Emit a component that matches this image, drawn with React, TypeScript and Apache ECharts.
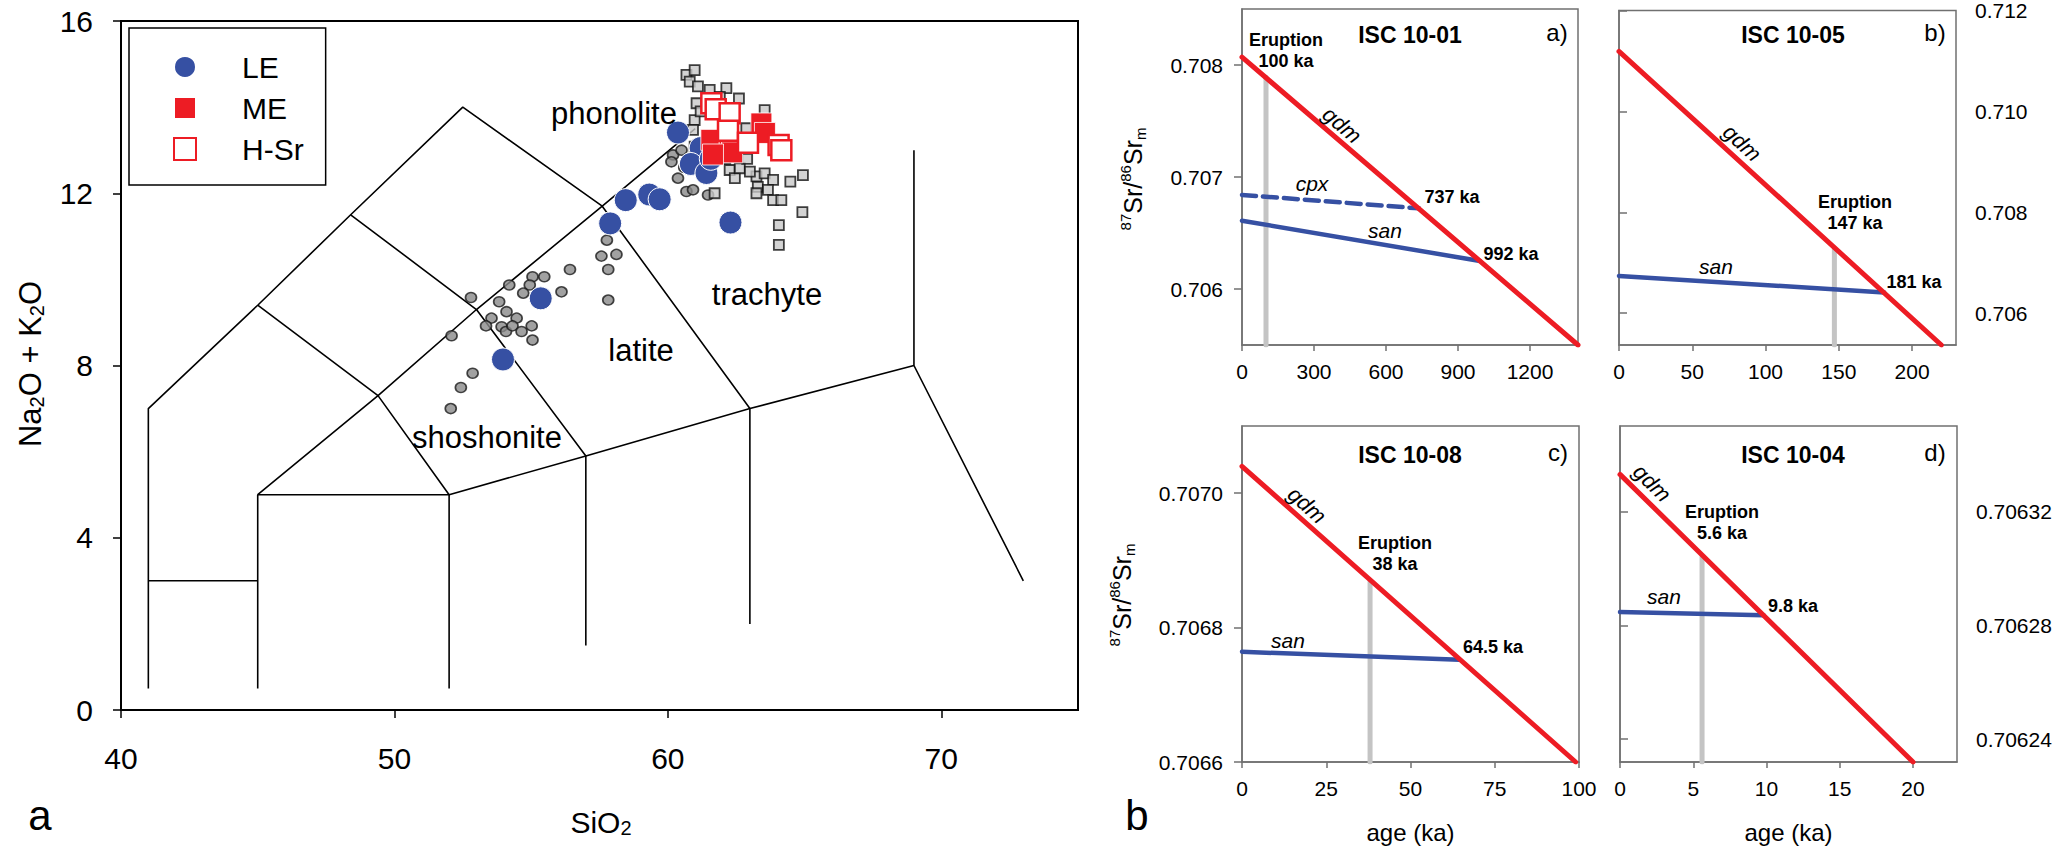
import React, { useEffect, useRef } from "react";
import * as echarts from "echarts";

const FONT = "'Liberation Sans', Arial, Helvetica, sans-serif";

// ---------- Panel (a): TAS diagram ----------
const tasXTicks = [40, 50, 60, 70];
const tasYTicks = [0, 4, 8, 12, 16];

const tasBoundaries: number[][][] = [
  [[41, 0.5], [41, 7], [45, 9.4], [48.4, 11.5], [52.5, 14], [57.6, 11.7], [63, 7]],
  [[41, 3], [45, 3]],
  [[45, 0.5], [45, 5], [52, 5], [57, 5.9], [63, 7], [69, 8], [73, 3]],
  [[52, 0.5], [52, 5]],
  [[57, 1.5], [57, 5.9]],
  [[63, 2], [63, 7]],
  [[69, 8], [69, 13]],
  [[45, 5], [49.4, 7.3], [53, 9.3], [57.6, 11.7], [61, 13.5]],
  [[45, 9.4], [49.4, 7.3], [52, 5]],
  [[48.4, 11.5], [53, 9.3], [57, 5.9]],
];

const grayCircles: number[][] = [
  [57.57, 10.54], [58.12, 10.58], [57.82, 10.23], [57.82, 9.52], [56.42, 10.23], [56.11, 9.71],
  [55.05, 10.06], [55.48, 10.06], [54.95, 9.87], [54.71, 9.68], [54.2, 9.87], [52.8, 9.58],
  [53.83, 9.48], [54.1, 9.25], [54.47, 9.1], [53.55, 9.1], [53.35, 8.92], [53.92, 8.9],
  [54.08, 8.79], [54.32, 8.92], [54.65, 8.79], [55.02, 8.92], [55.05, 8.59], [52.09, 8.69],
  [52.86, 7.82], [52.43, 7.49], [52.06, 7.0], [57.77, 10.91], [60.19, 12.89], [60.13, 12.73],
  [60.37, 12.35], [60.68, 12.04], [60.92, 12.08], [61.47, 11.96], [60.5, 13.0], [60.6, 12.6],
];

const graySquares: number[][] = [
  [60.68, 14.75], [60.98, 14.86], [60.8, 14.59], [61.1, 14.48], [61.53, 14.4], [62.14, 14.44],
  [61.9, 14.24], [61.05, 14.09], [60.98, 13.7], [60.92, 13.47], [60.98, 13.08], [63.54, 13.93],
  [62.87, 13.51], [62.26, 12.54], [62.45, 12.35], [62.63, 12.58], [61.71, 12.0], [63.24, 12.39],
  [63.54, 12.46], [63.85, 12.31], [63.29, 12.15], [63.66, 12.08], [63.24, 12.0], [63.85, 11.84],
  [64.15, 11.84], [64.48, 12.27], [64.94, 12.42], [64.92, 11.56], [64.06, 11.26], [64.06, 10.8],
  [61.2, 13.9], [62.6, 14.2], [61.3, 12.9], [62.9, 12.8], [63.0, 12.5], [62.1, 12.8],
];

const LE: number[][] = [
  [53.97, 8.14], [55.35, 9.56], [57.89, 11.3], [58.46, 11.84], [59.32, 11.97], [59.7, 11.86],
  [61.2, 13.05], [60.37, 13.41], [60.84, 12.68], [61.41, 12.47], [61.57, 12.8], [62.29, 11.32],
];

const ME: number[][] = [
  [61.59, 13.24], [62.26, 13.15], [63.42, 13.62], [62.35, 12.95], [61.65, 12.9], [63.55, 13.4],
];

const HSr: number[][] = [
  [61.59, 14.09], [61.75, 13.95], [62.26, 13.86], [62.2, 13.45], [62.93, 13.17], [64.05, 13.12], [64.15, 13.0],
];

// ---------- Panels (b): Sr isotope evolution ----------
const aXTicks = [0, 300, 600, 900, 1200];
const aYTicks = [0.706, 0.707, 0.708];
const aGdm = [[0, 0.70807], [1400, 0.7055]];
const aCpx = [[0, 0.70684], [737, 0.70672]];
const aSan = [[0, 0.70661], [992, 0.70625]];
const aErupt = [[100, 0.7055], [100, 0.70789]];

const bXTicks = [0, 50, 100, 150, 200];
const bYTicks = [0.706, 0.708, 0.71, 0.712];
const bGdm = [[0, 0.71119], [220, 0.70537]];
const bSan = [[0, 0.70674], [181, 0.70641]];
const bErupt = [[147, 0.70537], [147, 0.70728]];

const cXTicks = [0, 25, 50, 75, 100];
const cYTicks = [0.7066, 0.7068, 0.707];
const cGdm = [[0, 0.70704], [99, 0.7066]];
const cSan = [[0, 0.706764], [64.5, 0.706752]];
const cErupt = [[38, 0.7066], [38, 0.706868]];

const dXTicks = [0, 5, 10, 15, 20];
const dYTicks = [0.70624, 0.70628, 0.70632];
const dGdm = [[0, 0.706333], [20, 0.706232]];
const dSan = [[0, 0.7062847], [9.8, 0.7062835]];
const dErupt = [[5.6, 0.706232], [5.6, 0.706304]];

const RED = "#ed1c24";
const BLUE = "#3650a3";
const GRAYLINE = "#c4c4c4";
const AXGRAY = "#707070";

function txt(x: number, y: number, text: string, size: number, o: any = {}) {
  return {
    type: "text",
    x,
    y,
    rotation: o.rot || 0,
    z: 100,
    silent: true,
    style: {
      text,
      fill: "#000",
      font: `${o.italic ? "italic" : "normal"} ${o.bold ? "bold" : "normal"} ${size}px ${FONT}`,
      textAlign: "center",
      textVerticalAlign: "middle",
      align: "center",
      verticalAlign: "middle",
      lineHeight: o.lh,
      rich: o.rich,
    },
  };
}

const srRich = {
  m: { fontSize: 25, lineHeight: 30, fontFamily: FONT, fill: "#000" },
  sup: { fontSize: 15, lineHeight: 14, verticalAlign: "top", fontFamily: FONT, fill: "#000" },
  sub: { fontSize: 15, lineHeight: 12, verticalAlign: "bottom", fontFamily: FONT, fill: "#000" },
};
const srLabel = "{sup|87}{m|Sr/}{sup|86}{m|Sr}{sub|m}";

const App: React.FC = () => {
  const ref = useRef<HTMLDivElement>(null);

  useEffect(() => {
    document.body.style.margin = "0";
    if (!ref.current) return;
    const chart = echarts.init(ref.current, undefined, { renderer: "svg" });

    const rightGrids = [
      { left: 1242, top: 9, width: 336, height: 336 },
      { left: 1619, top: 9, width: 337, height: 336 },
      { left: 1242, top: 426, width: 337, height: 336 },
      { left: 1620, top: 426, width: 337, height: 336 },
    ];

    const grid: any[] = [
      { left: 121, top: 21, width: 957, height: 689, show: true, borderColor: "#000", borderWidth: 2, backgroundColor: "transparent" },
      ...rightGrids.map((g) => ({ ...g, show: true, borderColor: AXGRAY, borderWidth: 1.5, backgroundColor: "transparent" })),
    ];

    const smallX = (gi: number, min: number, max: number, ticks: number[], name?: string) => ({
      type: "value",
      gridIndex: gi,
      min,
      max,
      name,
      nameLocation: "middle",
      nameGap: 58,
      nameTextStyle: { fontSize: 24, color: "#000", fontFamily: FONT },
      axisLine: { show: true, lineStyle: { color: AXGRAY, width: 1.5 } },
      axisTick: { show: true, length: 6, customValues: ticks, lineStyle: { color: AXGRAY, width: 1.5 } },
      axisLabel: {
        customValues: ticks,
        fontSize: 21,
        color: "#000",
        fontFamily: FONT,
        margin: 16,
        formatter: (v: number) => String(v),
      },
      splitLine: { show: false },
    });

    const smallY = (gi: number, min: number, max: number, ticks: number[], dec: number, pos: string) => ({
      type: "value",
      gridIndex: gi,
      min,
      max,
      position: pos,
      axisLine: { show: true, lineStyle: { color: AXGRAY, width: 1.5 } },
      axisTick: { show: true, length: 8, customValues: ticks, lineStyle: { color: AXGRAY, width: 1.5 } },
      axisLabel: {
        customValues: ticks,
        fontSize: 21,
        color: "#000",
        fontFamily: FONT,
        margin: 19,
        formatter: (v: number) => v.toFixed(dec),
      },
      splitLine: { show: false },
    });

    const xAxis: any[] = [
      {
        type: "value",
        gridIndex: 0,
        min: 40,
        max: 75,
        axisLine: { show: true, lineStyle: { color: "#000", width: 2 } },
        axisTick: { show: true, length: 8, customValues: tasXTicks, lineStyle: { color: "#000", width: 1.5 } },
        axisLabel: { customValues: tasXTicks, fontSize: 30, color: "#000", fontFamily: FONT, margin: 33, formatter: (v: number) => String(v) },
        splitLine: { show: false },
      },
      smallX(1, 0, 1400, aXTicks),
      smallX(2, 0, 230, bXTicks),
      smallX(3, 0, 100, cXTicks, "age (ka)"),
      smallX(4, 0, 23, dXTicks, "age (ka)"),
    ];

    const yAxis: any[] = [
      {
        type: "value",
        gridIndex: 0,
        min: 0,
        max: 16,
        interval: 4,
        axisLine: { show: true, lineStyle: { color: "#000", width: 2 } },
        axisTick: { show: true, length: 8, lineStyle: { color: "#000", width: 1.5 } },
        axisLabel: { customValues: tasYTicks, fontSize: 30, color: "#000", fontFamily: FONT, margin: 28, formatter: (v: number) => String(v) },
        splitLine: { show: false },
      },
      smallY(1, 0.7055, 0.7085, aYTicks, 3, "left"),
      smallY(2, 0.70537, 0.712, bYTicks, 3, "right"),
      smallY(3, 0.7066, 0.7071, cYTicks, 4, "left"),
      smallY(4, 0.706232, 0.70635, dYTicks, 5, "right"),
    ];

    const series: any[] = [];

    tasBoundaries.forEach((poly, i) => {
      series.push({
        name: "b" + i,
        type: "line",
        xAxisIndex: 0,
        yAxisIndex: 0,
        data: poly,
        symbol: "none",
        silent: true,
        lineStyle: { color: "#000", width: 1.6 },
        z: 1,
      });
    });

    series.push({
      name: "grayCircles",
      type: "scatter",
      xAxisIndex: 0,
      yAxisIndex: 0,
      data: grayCircles,
      symbol: "circle",
      symbolSize: [11, 10],
      itemStyle: { color: "#8a8a8a", borderColor: "#1a1a1a", borderWidth: 1.6 },
      z: 2,
      silent: true,
    });
    series.push({
      name: "graySquares",
      type: "scatter",
      xAxisIndex: 0,
      yAxisIndex: 0,
      data: graySquares,
      symbol: "rect",
      symbolSize: 10,
      itemStyle: { color: "#c8c8c8", borderColor: "#111", borderWidth: 1.8 },
      z: 2,
      silent: true,
    });
    series.push({
      name: "LE",
      type: "scatter",
      xAxisIndex: 0,
      yAxisIndex: 0,
      data: LE,
      symbol: "circle",
      symbolSize: 23,
      itemStyle: { color: BLUE, borderColor: "#fff", borderWidth: 1, opacity: 1 },
      z: 3,
    });
    series.push({
      name: "ME",
      type: "scatter",
      xAxisIndex: 0,
      yAxisIndex: 0,
      data: ME,
      symbol: "rect",
      symbolSize: 21,
      itemStyle: { color: RED, borderColor: "#fff", borderWidth: 0.8, opacity: 1 },
      z: 4,
    });
    series.push({
      name: "H-Sr",
      type: "scatter",
      xAxisIndex: 0,
      yAxisIndex: 0,
      data: HSr,
      symbol: "rect",
      symbolSize: 20,
      itemStyle: { color: "#fff", borderColor: RED, borderWidth: 2.5, opacity: 1 },
      z: 5,
    });

    const srLine = (gi: number, data: number[][], color: string, width: number, dashed = false, z = 3) => ({
      type: "line",
      xAxisIndex: gi,
      yAxisIndex: gi,
      data,
      symbol: "none",
      silent: true,
      z,
      lineStyle: { color, width, cap: "round", type: dashed ? [14, 7] : "solid" },
    });

    series.push(srLine(1, aErupt, GRAYLINE, 5, false, 2));
    series.push(srLine(1, aCpx, BLUE, 4.5, true));
    series.push(srLine(1, aSan, BLUE, 4.5));
    series.push(srLine(1, aGdm, RED, 5, false, 4));

    series.push(srLine(2, bErupt, GRAYLINE, 5, false, 2));
    series.push(srLine(2, bSan, BLUE, 4.5));
    series.push(srLine(2, bGdm, RED, 5, false, 4));

    series.push(srLine(3, cErupt, GRAYLINE, 5, false, 2));
    series.push(srLine(3, cSan, BLUE, 4.5));
    series.push(srLine(3, cGdm, RED, 5, false, 4));

    series.push(srLine(4, dErupt, GRAYLINE, 5, false, 2));
    series.push(srLine(4, dSan, BLUE, 4.5));
    series.push(srLine(4, dGdm, RED, 5, false, 4));

    const deg = Math.PI / 180;
    const graphic: any[] = [
      // left panel texts
      txt(614, 113, "phonolite", 31),
      txt(767, 294, "trachyte", 31),
      txt(641, 350, "latite", 31),
      txt(487, 437, "shoshonite", 31),
      txt(601, 822, "{m|SiO}{s|2}", 30, {
        rich: {
          m: { fontSize: 30, lineHeight: 32, fontFamily: FONT, fill: "#000" },
          s: { fontSize: 20, lineHeight: 6, verticalAlign: "bottom", fontFamily: FONT, fill: "#000" },
        },
      }),
      txt(30, 364, "{m|Na}{s|2}{m|O + K}{s|2}{m|O}", 30, {
        rot: 90 * deg,
        rich: {
          m: { fontSize: 31, lineHeight: 34, fontFamily: FONT, fill: "#000" },
          s: { fontSize: 20, lineHeight: 8, verticalAlign: "bottom", fontFamily: FONT, fill: "#000" },
        },
      }),
      txt(40, 815, "a", 42),
      txt(1137, 815, "b", 42),

      // y-axis titles of the isotope panels
      txt(1133, 179, srLabel, 25, { rot: 90 * deg, rich: srRich }),
      txt(1122, 595, srLabel, 25, { rot: 90 * deg, rich: srRich }),

      // panel a)
      txt(1410, 35, "ISC 10-01", 23, { bold: true }),
      txt(1557, 32, "a)", 24),
      txt(1286, 50, "Eruption\n100 ka", 18, { bold: true, lh: 21 }),
      txt(1342, 125, "gdm", 22, { italic: true, rot: -40.5 * deg }),
      txt(1312, 183, "cpx", 21, { italic: true }),
      txt(1452, 197, "737 ka", 18, { bold: true }),
      txt(1385, 230, "san", 21, { italic: true }),
      txt(1511, 254, "992 ka", 18, { bold: true }),

      // panel b)
      txt(1793, 35, "ISC 10-05", 23, { bold: true }),
      txt(1935, 32, "b)", 24),
      txt(1742, 143, "gdm", 22, { italic: true, rot: -42.4 * deg }),
      txt(1855, 212, "Eruption\n147 ka", 18, { bold: true, lh: 21 }),
      txt(1716, 266, "san", 21, { italic: true }),
      txt(1914, 282, "181 ka", 18, { bold: true }),

      // panel c)
      txt(1410, 455, "ISC 10-08", 23, { bold: true }),
      txt(1558, 452, "c)", 24),
      txt(1307, 505, "gdm", 22, { italic: true, rot: -41.6 * deg }),
      txt(1395, 553, "Eruption\n38 ka", 18, { bold: true, lh: 21 }),
      txt(1288, 640, "san", 21, { italic: true }),
      txt(1493, 647, "64.5 ka", 18, { bold: true }),

      // panel d)
      txt(1793, 455, "ISC 10-04", 23, { bold: true }),
      txt(1935, 452, "d)", 24),
      txt(1652, 483, "gdm", 22, { italic: true, rot: -44.6 * deg }),
      txt(1722, 522, "Eruption\n5.6 ka", 18, { bold: true, lh: 21 }),
      txt(1664, 596, "san", 21, { italic: true }),
      txt(1793, 606, "9.8 ka", 18, { bold: true }),
    ];

    chart.setOption({
      animation: false,
      backgroundColor: "#fff",
      textStyle: { fontFamily: FONT },
      grid,
      xAxis,
      yAxis,
      legend: {
        data: ["LE", "ME", "H-Sr"],
        orient: "vertical",
        left: 129,
        top: 28,
        padding: [24, 22, 21, 44],
        itemWidth: 22,
        itemHeight: 22,
        itemGap: 11,
        selectedMode: false,
        borderColor: "#000",
        borderWidth: 1.5,
        textStyle: { fontSize: 30, lineHeight: 30, color: "#000", fontFamily: FONT, padding: [0, 0, 0, 41] },
      },
      series,
      graphic,
    });

    return () => {
      chart.dispose();
    };
  }, []);

  return <div ref={ref} style={{ width: 2072, height: 848 }} />;
};

export default App;
